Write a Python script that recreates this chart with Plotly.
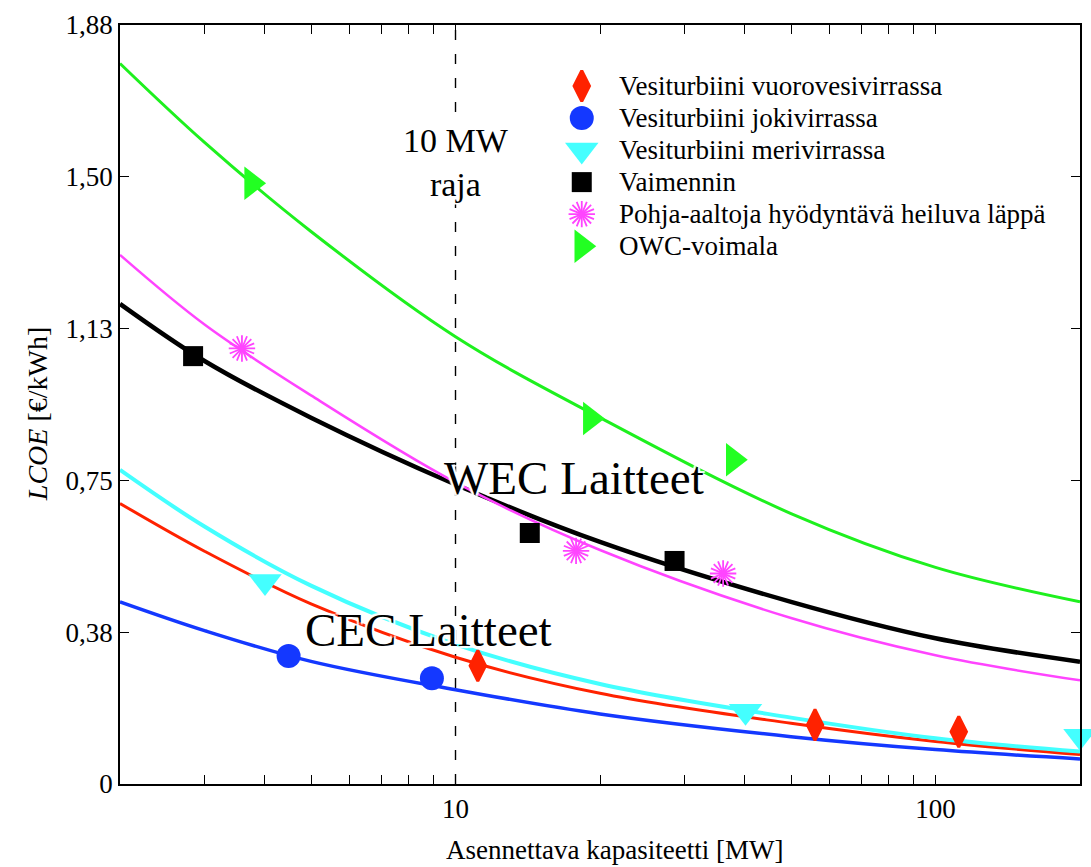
import plotly.graph_objects as go

# ---------------- data ----------------
x_curve = [2, 3, 5, 10, 20, 50, 100, 200]

curve_blue = [0.450, 0.379, 0.303, 0.233, 0.173, 0.117, 0.085, 0.062]
curve_red = [0.693, 0.575, 0.445, 0.313, 0.224, 0.150, 0.105, 0.073]
curve_cyan = [0.776, 0.636, 0.490, 0.345, 0.247, 0.164, 0.113, 0.080]
curve_black = [1.186, 1.045, 0.905, 0.740, 0.598, 0.450, 0.360, 0.302]
curve_magenta = [1.307, 1.135, 0.960, 0.745, 0.578, 0.410, 0.318, 0.256]
curve_green = [1.780, 1.585, 1.365, 1.105, 0.905, 0.668, 0.535, 0.450]

red_x = [11.13, 56.1, 111.8]
red_y = [0.292, 0.146, 0.129]
blue_x = [4.49, 8.93]
blue_y = [0.316, 0.261]
cyan_x = [4.01, 40.2, 200.0]
cyan_y = [0.500, 0.180, 0.118]
black_x = [2.84, 14.28, 28.6]
black_y = [1.057, 0.620, 0.551]
magenta_x = [3.59, 17.83, 36.1]
magenta_y = [1.076, 0.576, 0.520]
green_x = [3.76, 19.09, 37.9]
green_y = [1.484, 0.903, 0.801]

legend_labels = [
    "Vesiturbiini vuorovesivirrassa",
    "Vesiturbiini jokivirrassa",
    "Vesiturbiini merivirrassa",
    "Vaimennin",
    "Pohja-aaltoja hyödyntävä heiluva läppä",
    "OWC-voimala",
]

y_tickvals = [0, 0.375, 0.75, 1.125, 1.5, 1.875]
y_ticktext = ["0", "0,38", "0,75", "1,13", "1,50", "1,88"]
x_tickvals = [10, 100]
x_ticktext = ["10", "100"]
x_minor = [3, 4, 5, 6, 7, 8, 9, 20, 30, 40, 50, 60, 70, 80, 90]

limit_x = [10, 10]
limit_y = [0, 1.875]

FONT = "Liberation Serif, Times New Roman, serif"

RED = "#FF2200"
BLUE = "#1438FF"
CYAN = "#44FFFF"
BLACK = "#000000"
MAGENTA = "#FF44FF"
GREEN = "#1EF01E"
GREEN_M = "#22FF22"

fig = go.Figure()

# vertical 10 MW limit line
fig.add_trace(go.Scatter(x=limit_x, y=limit_y, mode="lines",
                         line=dict(color="black", width=1.4, dash="10px,14px"),
                         showlegend=False, hoverinfo="skip"))

# fitted curves
curves = [
    (curve_blue, BLUE, 3.5),
    (curve_red, RED, 3),
    (curve_cyan, CYAN, 4),
    (curve_black, BLACK, 4.5),
    (curve_magenta, MAGENTA, 2.5),
    (curve_green, GREEN, 3),
]
for yv, col, w in curves:
    fig.add_trace(go.Scatter(x=x_curve, y=yv, mode="lines",
                             line=dict(color=col, width=w, shape="spline", smoothing=1.0),
                             showlegend=False, hoverinfo="skip"))

# marker styles
styles = [
    dict(symbol="diamond-tall", size=22, color=RED, line=dict(color=RED, width=3)),
    dict(symbol="circle", size=24, color=BLUE, line=dict(width=0)),
    dict(symbol="triangle-down", size=29, color=CYAN, line=dict(width=0)),
    dict(symbol="square", size=20, color=BLACK, line=dict(width=0)),
    dict(symbol="asterisk-open", size=22, color=MAGENTA, line=dict(color=MAGENTA, width=1.8)),
    dict(symbol="triangle-right", size=29, color=GREEN_M, line=dict(width=0)),
]
points = [(red_x, red_y), (blue_x, blue_y), (cyan_x, cyan_y),
          (black_x, black_y), (magenta_x, magenta_y), (green_x, green_y)]

for (px, py), st, name in zip(points, styles, legend_labels):
    fig.add_trace(go.Scatter(x=px, y=py, mode="markers", marker=st, name=name,
                             showlegend=False, cliponaxis=False))
    if st["symbol"] == "asterisk-open":
        st2 = dict(st)
        st2["angle"] = 22.5
        fig.add_trace(go.Scatter(x=px, y=py, mode="markers", marker=st2,
                                 showlegend=False, cliponaxis=False))

# manual legend on an overlay axis in [0,1] units
leg_x_marker = 0.481
leg_x_text = 0.5177
leg_y0 = 0.9196
leg_dy = 0.0422
for i, (st, name) in enumerate(zip(styles, legend_labels)):
    yy = leg_y0 - i * leg_dy
    fig.add_trace(go.Scatter(x=[leg_x_marker], y=[yy], mode="markers", marker=st,
                             xaxis="x2", yaxis="y2", showlegend=False, hoverinfo="skip",
                             cliponaxis=False))
    if st["symbol"] == "asterisk-open":
        st2 = dict(st)
        st2["angle"] = 22.5
        fig.add_trace(go.Scatter(x=[leg_x_marker], y=[yy], mode="markers", marker=st2,
                                 xaxis="x2", yaxis="y2", showlegend=False,
                                 hoverinfo="skip", cliponaxis=False))
    fig.add_annotation(x=leg_x_text, y=yy, xref="paper", yref="paper", text=name,
                       showarrow=False, xanchor="left", yanchor="middle",
                       font=dict(family=FONT, size=27, color="black"))

halo = "2px 2px 1px white, -2px -2px 1px white, 2px -2px 1px white, -2px 2px 1px white"

fig.add_annotation(x=1.0, y=1.535, xref="x", yref="y", text="10 MW<br>raja",
                   showarrow=False, bgcolor="white",
                   font=dict(family=FONT, size=34, color="black"))
fig.add_annotation(x=1.246, y=0.756, xref="x", yref="y", text="WEC Laitteet",
                   showarrow=False,
                   font=dict(family=FONT, size=47, color="black", shadow=halo))
fig.add_annotation(x=0.944, y=0.380, xref="x", yref="y", text="CEC Laitteet",
                   showarrow=False,
                   font=dict(family=FONT, size=47, color="black", shadow=halo))

# axis titles as annotations
fig.add_annotation(x=0.5146, y=-0.0875, xref="paper", yref="paper",
                   text="Asennettava kapasiteetti [MW]", showarrow=False,
                   xanchor="center", yanchor="middle",
                   font=dict(family=FONT, size=27, color="black"))
fig.add_annotation(x=-0.0852, y=0.4875, xref="paper", yref="paper",
                   text="<i>LCOE</i> [€/kWh]", showarrow=False, textangle=-90,
                   xanchor="center", yanchor="middle",
                   font=dict(family=FONT, size=28, color="black"))

axis_common = dict(showgrid=False, zeroline=False, ticks="inside", ticklen=9,
                   tickwidth=1.3, tickcolor="black", linecolor="black", linewidth=1.5,
                   mirror="ticks", showline=True,
                   tickfont=dict(family=FONT, size=27, color="black"))

fig.update_layout(
    width=1091, height=867,
    margin=dict(l=120, r=9, t=25, b=83),
    paper_bgcolor="white", plot_bgcolor="white",
    showlegend=False,
    xaxis=dict(type="log", range=[0.30103, 2.30103], tickmode="array",
               tickvals=x_tickvals, ticktext=x_ticktext,
               minor=dict(tickmode="array", tickvals=x_minor, ticks="inside", ticklen=9,
                          tickwidth=1.2, tickcolor="black", showgrid=False),
               **axis_common),
    yaxis=dict(range=[0, 1.875], tickmode="array", tickvals=y_tickvals,
               ticktext=y_ticktext, **axis_common),
    xaxis2=dict(overlaying="x", range=[0, 1], visible=False, fixedrange=True),
    yaxis2=dict(overlaying="y", range=[0, 1], visible=False, fixedrange=True),
)

# remove the default 8px page margin so the figure fills the window exactly
fig.write_html("out.html",
               config={"displayModeBar": False},
               post_script="document.body.style.margin='0';"
                           "document.body.style.overflow='hidden';")
